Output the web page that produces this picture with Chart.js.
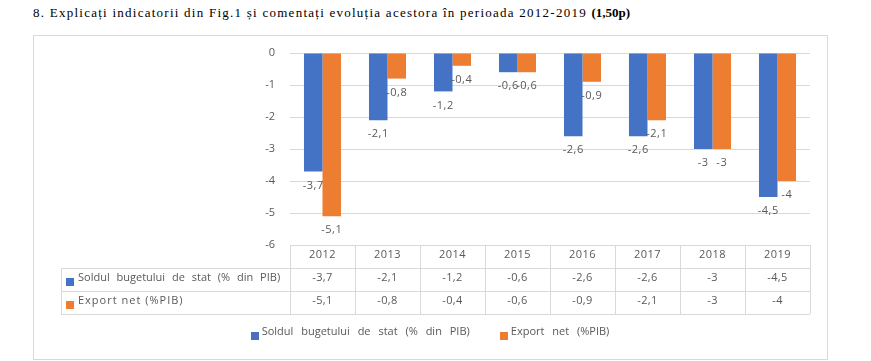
<!DOCTYPE html>
<html>
<head>
<meta charset="utf-8">
<script src="https://cdn.jsdelivr.net/npm/chart.js@4.4.0/dist/chart.umd.min.js"></script>
<style>
  html, body { margin: 0; padding: 0; background: #fff; width: 871px; height: 361px; overflow: hidden; }
  #title { position: absolute; left: 33px; top: 5px; font-family: "Liberation Serif", serif; font-size: 13px;
           letter-spacing: 1.25px; color: #000; white-space: nowrap; }
  #title b { letter-spacing: 0; }
  #box { position: absolute; left: 33px; top: 35px; width: 795px; height: 325px; border: 1px solid #d9d9d9; box-sizing: border-box; }
  #wrap { position: absolute; left: 0; top: 0; width: 871px; height: 361px; }
</style>
</head>
<body>
<div id="title">8. Explicați indicatorii din Fig.1 și comentați evoluția acestora în perioada 2012-2019 <b>(1,50p)</b></div>
<div id="box"></div>
<div id="wrap"><canvas id="chart"></canvas></div>
<script>
// --- date ---
const years = ['2012', '2013', '2014', '2015', '2016', '2017', '2018', '2019'];
const soldBuget = [-3.7, -2.1, -1.2, -0.6, -2.6, -2.6, -3, -4.5];
const exportNet = [-5.1, -0.8, -0.4, -0.6, -0.9, -2.1, -3, -4];
const seriesNames = ['Soldul bugetului de stat (% din PIB)', 'Export net (%PIB)'];
const yMin = -6, yMax = 0;

const BLUE = '#4472C4';
const ORANGE = '#ED7D31';
const GRID = '#d9d9d9';
const TEXT = '#595959';
const FONT = '11px "Open Sans"';

const fmt = (v) => String(v).replace('.', ',');

// etichete sub capătul barelor
const labelPlugin = {
  id: 'barLabels',
  afterDatasetsDraw(chart) {
    const ctx = chart.ctx;
    ctx.save();
    ctx.font = FONT;
    ctx.letterSpacing = '0.5px';
    ctx.fillStyle = TEXT;
    ctx.textAlign = 'center';
    ctx.textBaseline = 'middle';
    chart.data.datasets.forEach((ds, i) => {
      chart.getDatasetMeta(i).data.forEach((bar, j) => {
        ctx.fillText(fmt(ds.data[j]), bar.x, bar.y + 14);
      });
    });
    ctx.restore();
  }
};

// tabelul de date + legenda de jos
const tablePlugin = {
  id: 'dataTable',
  afterDraw(chart) {
    const ctx = chart.ctx;
    const a = chart.chartArea;
    const x = chart.scales.x;
    const n = years.length;
    const colW = (a.right - a.left) / n;
    const rowH = 23;
    const top = a.bottom;
    const legLeft = 61;
    const px = (v) => Math.round(v) + 0.5;

    ctx.save();
    ctx.strokeStyle = GRID;
    ctx.lineWidth = 1;
    ctx.beginPath();
    for (let r = 1; r <= 3; r++) {
      ctx.moveTo(legLeft, px(top + r * rowH));
      ctx.lineTo(a.right, px(top + r * rowH));
    }
    for (let i = 0; i <= n; i++) {
      ctx.moveTo(px(a.left + i * colW), top);
      ctx.lineTo(px(a.left + i * colW), top + 3 * rowH);
    }
    ctx.moveTo(px(legLeft), top + rowH);
    ctx.lineTo(px(legLeft), top + 3 * rowH);
    ctx.stroke();

    ctx.font = FONT;
    ctx.fillStyle = TEXT;
    ctx.textAlign = 'center';
    ctx.textBaseline = 'middle';
    ctx.letterSpacing = '0.4px';
    years.forEach((yr, i) => {
      const cx = x.getPixelForValue(i);
      ctx.fillText(yr, cx, top + rowH / 2 - 2);
      ctx.fillText(fmt(soldBuget[i]), cx, top + rowH * 1.5 - 2);
      ctx.fillText(fmt(exportNet[i]), cx, top + rowH * 2.5 - 2);
    });

    // legenda din tabel
    const colors = [BLUE, ORANGE];
    ctx.textAlign = 'left';
    seriesNames.forEach((name, k) => {
      const cy = top + rowH * (1.5 + k);
      ctx.fillStyle = colors[k];
      ctx.fillRect(66, Math.round(cy - 2), 8, 8);
      ctx.fillStyle = TEXT;
      if (k === 0) { ctx.wordSpacing = '4px'; ctx.letterSpacing = '0px'; }
      else { ctx.wordSpacing = '0px'; ctx.letterSpacing = '1px'; }
      ctx.fillText(name, 78, cy - 2);
    });

    // legenda de jos
    ctx.wordSpacing = '5px';
    ctx.letterSpacing = '0px';
    const ly = 334;
    const widths = seriesNames.map(s => ctx.measureText(s).width);
    const total = widths[0] + widths[1] + 2 * 11 + 30;
    let lx = 430 - total / 2;
    seriesNames.forEach((name, k) => {
      ctx.fillStyle = colors[k];
      ctx.fillRect(Math.round(lx), ly - 2, 8, 8);
      ctx.fillStyle = TEXT;
      ctx.fillText(name, lx + 11, ly - 2);
      lx += 11 + widths[k] + 30;
    });
    ctx.restore();
  }
};

new Chart(document.getElementById('chart'), {
  type: 'bar',
  data: {
    labels: years,
    datasets: [
      { label: seriesNames[0], data: soldBuget, backgroundColor: BLUE, categoryPercentage: 0.57, barPercentage: 1 },
      { label: seriesNames[1], data: exportNet, backgroundColor: ORANGE, categoryPercentage: 0.57, barPercentage: 1 }
    ]
  },
  options: {
    responsive: true,
    maintainAspectRatio: false,
    animation: false,
    layout: { padding: { left: 33, right: 61, top: 53, bottom: 116 } },
    scales: {
      x: { display: false },
      y: {
        min: yMin,
        max: yMax,
        ticks: { stepSize: 1, color: TEXT, font: { family: 'Open Sans', size: 11 }, padding: 15 },
        grid: { color: GRID, drawTicks: false },
        border: { display: false },
        afterFit: (s) => { s.width = 257; }
      }
    },
    plugins: {
      legend: { display: false },
      tooltip: { enabled: false }
    }
  },
  plugins: [labelPlugin, tablePlugin]
});
</script>
</body>
</html>
